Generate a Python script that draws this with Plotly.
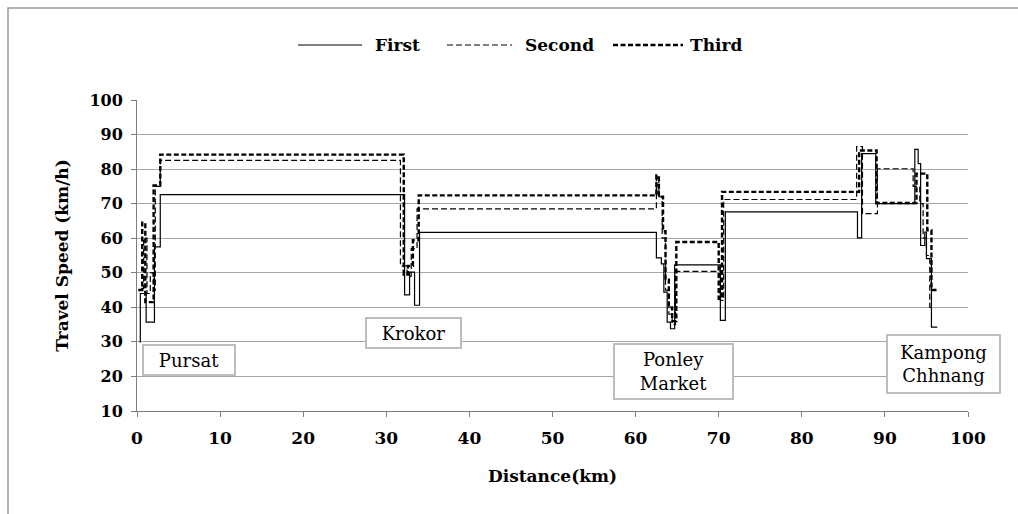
import plotly.graph_objects as go

# Speed profiles along the route (segment start distance in km, speed in km/h);
# each profile is drawn as a step line, the last point closes the final segment.
first_km = [0.3, 0.4, 1.1, 2.1, 2.8, 32.2, 32.8, 33.4, 34.0, 62.5, 63.1, 63.4, 63.8,
            64.2, 64.7, 70.2, 70.8, 86.7, 87.2, 88.9, 93.6, 94.0, 94.3, 94.8, 95.0,
            95.6, 96.3]
first_speed = [30.0, 44.0, 35.7, 57.5, 72.6, 43.6, 50.2, 40.6, 61.7, 54.3, 52.6, 44.4,
               35.7, 33.8, 52.3, 36.2, 67.6, 60.1, 84.5, 70.0, 85.7, 81.6, 57.9, 61.8,
               54.1, 34.3, 34.3]

second_km = [0.5, 0.8, 1.2, 1.6, 2.0, 2.2, 2.8, 31.7, 32.5, 33.0, 33.7, 62.5, 62.8,
             63.2, 63.6, 64.0, 64.4, 64.8, 70.2, 70.6, 86.6, 87.3, 89.1, 93.4, 94.2,
             94.6, 95.0, 95.4, 95.8]
second_speed = [45.5, 60.0, 44.0, 50.0, 45.0, 75.0, 82.5, 52.0, 49.0, 57.0, 68.5, 78.0,
                72.0, 60.0, 45.0, 38.0, 35.0, 50.4, 42.0, 71.2, 86.5, 67.1, 80.1, 75.0,
                70.0, 60.0, 55.0, 40.0, 40.0]

third_km = [0.15, 0.63, 1.0, 2.0, 2.8, 32.1, 32.6, 33.2, 33.9, 62.5, 62.8, 63.3, 63.6,
            64.0, 64.4, 64.9, 70.0, 70.4, 86.9, 89.0, 93.8, 95.1, 95.6, 96.3]
third_speed = [45.0, 64.5, 41.5, 75.3, 84.2, 49.5, 52.0, 59.4, 72.4, 78.2, 72.0, 62.0,
               48.0, 40.0, 36.0, 58.9, 42.5, 73.4, 85.4, 70.2, 78.7, 62.3, 45.0, 45.0]

series_names = ["First", "Second", "Third"]

# Town labels placed along the route
town_names = ["Pursat", "Krokor", "Ponley<br>Market", "Kampong<br>Chhnang"]
town_km = [6.3, 33.3, 64.5, 97.0]
town_speed = [24.8, 32.6, 21.3, 23.6]
town_box = [(88, 26), (91, 26), (115, 51), (109, 54)]

x_ticks = list(range(0, 101, 10))
y_ticks = list(range(10, 101, 10))

SERIF = "DejaVu Serif"

line_styles = [
    dict(color="black", width=1.2, dash="solid"),
    dict(color="black", width=1.2, dash="6px,3px"),
    dict(color="black", width=2.4, dash="5px,2.5px"),
]

fig = go.Figure()
for name, xs, ys, style in zip(series_names,
                               [first_km, second_km, third_km],
                               [first_speed, second_speed, third_speed],
                               line_styles):
    fig.add_trace(go.Scatter(x=xs, y=ys, mode="lines", name=name,
                             line=dict(shape="hv", **style), showlegend=False))

L, R, T, B = 137, 50, 100, 103
W, H = 1018, 514
pw, ph = W - L - R, H - T - B


def px_to_paper(px, py):
    return (px - L) / pw, 1 - (py - T) / ph


shapes = []
annotations = []

# Outer chart frame
fx0, fy0 = px_to_paper(8, 8)
fx1, fy1 = px_to_paper(1030, 530)
shapes.append(dict(type="rect", xref="paper", yref="paper", x0=fx0, y0=fy1, x1=fx1, y1=fy0,
                   line=dict(color="#9a9a9a", width=1.5), fillcolor="rgba(0,0,0,0)",
                   layer="below"))

# Legend drawn along the top: sample line followed by its name
legend_y = 45
legend_items = [(298, 362, 373), (447, 512, 523), (613, 683, 688)]
for name, style, (sx0, sx1, tx) in zip(series_names, line_styles, legend_items):
    lx0, ly = px_to_paper(sx0, legend_y)
    lx1, _ = px_to_paper(sx1, legend_y)
    shapes.append(dict(type="line", xref="paper", yref="paper", x0=lx0, x1=lx1, y0=ly, y1=ly,
                       line=style))
    tx_p, _ = px_to_paper(tx, legend_y)
    annotations.append(dict(xref="paper", yref="paper", x=tx_p, y=ly, text="<b>" + name + "</b>",
                            showarrow=False, xanchor="left", yanchor="middle",
                            font=dict(family=SERIF, size=17, color="black")))

for name, xk, ys, (bw, bh) in zip(town_names, town_km, town_speed, town_box):
    annotations.append(dict(x=xk, y=ys, text=name, showarrow=False,
                            xanchor="center", yanchor="middle",
                            width=bw, height=bh, align="center", valign="middle",
                            font=dict(family=SERIF, size=18, color="black"),
                            bgcolor="white", bordercolor="#bdbdbd", borderwidth=2,
                            borderpad=1))

fig.update_layout(
    width=W, height=H,
    margin=dict(l=L, r=R, t=T, b=B),
    paper_bgcolor="white", plot_bgcolor="white",
    font=dict(family=SERIF, size=17, color="black"),
    shapes=shapes, annotations=annotations,
    showlegend=False,
)
fig.update_xaxes(range=[0, 100], tickvals=x_ticks, showgrid=False,
                 showline=True, linecolor="#7f7f7f", linewidth=1,
                 ticks="outside", ticklen=5, tickcolor="#7f7f7f",
                 ticklabelstandoff=7,
                 tickfont=dict(family=SERIF, size=17, weight="bold"),
                 title=dict(text="<b>Distance(km)</b>", font=dict(family=SERIF, size=17),
                            standoff=22),
                 zeroline=False)
fig.update_yaxes(range=[10, 100], tickvals=y_ticks, showgrid=True,
                 gridcolor="#a6a6a6", gridwidth=1,
                 showline=True, linecolor="#7f7f7f", linewidth=1,
                 ticks="outside", ticklen=5, tickcolor="#7f7f7f",
                 ticklabelstandoff=5,
                 tickfont=dict(family=SERIF, size=16, weight="bold"),
                 title=dict(text="<b>Travel Speed (km/h)</b>", font=dict(family=SERIF, size=17),
                            standoff=16),
                 zeroline=False)

fig.write_html("out.html")
